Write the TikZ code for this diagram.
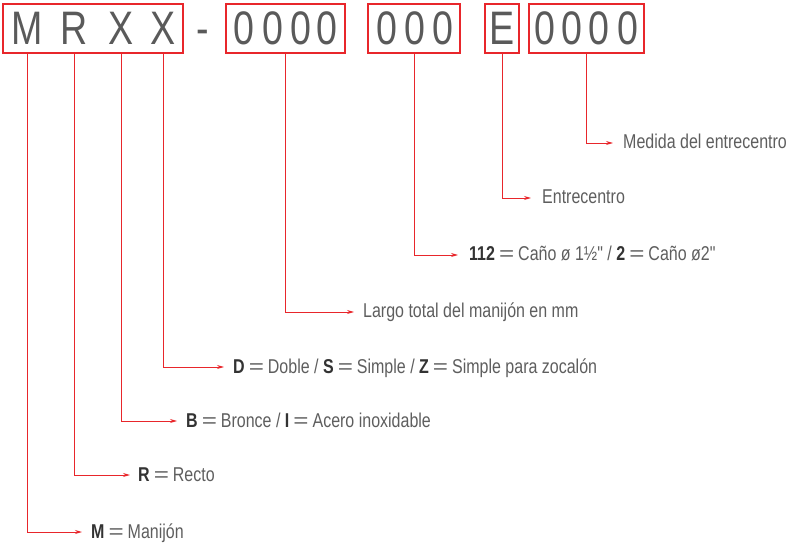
\documentclass[tikz,border=0pt]{standalone}
\usepackage{fontspec}
\setmainfont[FakeStretch=0.8, Ligatures=TeXOff]{Liberation Sans}
\usetikzlibrary{arrows.meta}
\definecolor{cred}{HTML}{E8262B}
\definecolor{ctext}{HTML}{5E5E5E}
\definecolor{cbold}{HTML}{333333}
\definecolor{cbig}{HTML}{5A5A5A}
\tikzset{
  codebox/.style={draw=cred, line width=1.2pt, inner sep=0pt, minimum height=49pt},
  big/.style={font=\fontsize{47}{47}\selectfont, text=cbig, inner sep=0pt, anchor=base},
  lbl/.style={font=\fontsize{20}{20}\selectfont, text=ctext, inner sep=0pt, anchor=base west},
  conn/.style={draw=cred, line width=0.9pt, -{Stealth[length=7pt, width=4pt]}},
}
\newcommand{\bb}[1]{\textcolor{cbold}{\textbf{#1}}}
\newcommand{\eqs}{\hspace{4pt}{\addfontfeature{FakeStretch=1.3}=}\hspace{4pt}}
\begin{document}
\begin{tikzpicture}[x=1pt, y=-1pt]
\useasboundingbox (0,0) rectangle (787,545);
% boxes
\node[codebox, minimum width=180pt] (b1) at (93,28.5) {};
\node[codebox, minimum width=119pt] (b2) at (285.5,28.5) {};
\node[codebox, minimum width=92pt] (b3) at (414,28.5) {};
\node[codebox, minimum width=34pt] (b4) at (502,28.5) {};
\node[codebox, minimum width=115pt] (b5) at (586.5,28.5) {};
% letters
\node[big] (lM) at (27,45) {M};
\node[big] (lR) at (74,45) {R};
\node[big] (lX1) at (121,45) {X};
\node[big] (lX2) at (163,45) {X};
\node[big] (dash) at (203,45) {-};
\node[big] at (244,45) {0};
\node[big] at (273,45) {0};
\node[big] at (301,45) {0};
\node[big] at (327,45) {0};
\node[big] at (387,45) {0};
\node[big] at (415,45) {0};
\node[big] at (443,45) {0};
\node[big] (lE) at (502,45) {E};
\node[big] at (545,45) {0};
\node[big] at (572,45) {0};
\node[big] at (599,45) {0};
\node[big] at (628,45) {0};
% arrow end coordinates
\coordinate (a5) at (613,143);
\coordinate (a4) at (531,198);
\coordinate (a3) at (458,255);
\coordinate (a2) at (354,312);
\coordinate (aX2) at (224,367);
\coordinate (aX1) at (177,421);
\coordinate (aR) at (130,475);
\coordinate (aM) at (82,532);
% labels
\node[lbl] (t5) at (623,149) {Medida del entrecentro};
\node[lbl] (t4) at (542,204) {Entrecentro};
\node[lbl] (t3) at (469,261) {\bb{112}\eqs{}Caño ø 1½" / \bb{2}\eqs{}Caño ø2"};
\node[lbl] (t2) at (363,318) {Largo total del manijón en mm};
\node[lbl] (tX2) at (233,373) {\bb{D}\eqs{}Doble / \bb{S}\eqs{}Simple / \bb{Z}\eqs{}Simple para zocalón};
\node[lbl] (tX1) at (186,427) {\bb{B}\eqs{}Bronce / \bb{I}\eqs{}Acero inoxidable};
\node[lbl] (tR) at (138,481) {\bb{R}\eqs{}Recto};
\node[lbl] (tM) at (91,538) {\bb{M}\eqs{}Manijón};
% connectors
\draw[conn] (b5.south) |- (a5);
\draw[conn] (b4.south) |- (a4);
\draw[conn] (b3.south) |- (a3);
\draw[conn] (b2.south) |- (a2);
\draw[conn] (lX2 |- b1.south) |- (aX2);
\draw[conn] (lX1 |- b1.south) |- (aX1);
\draw[conn] (lR |- b1.south) |- (aR);
\draw[conn] (lM |- b1.south) |- (aM);
\end{tikzpicture}
\end{document}
